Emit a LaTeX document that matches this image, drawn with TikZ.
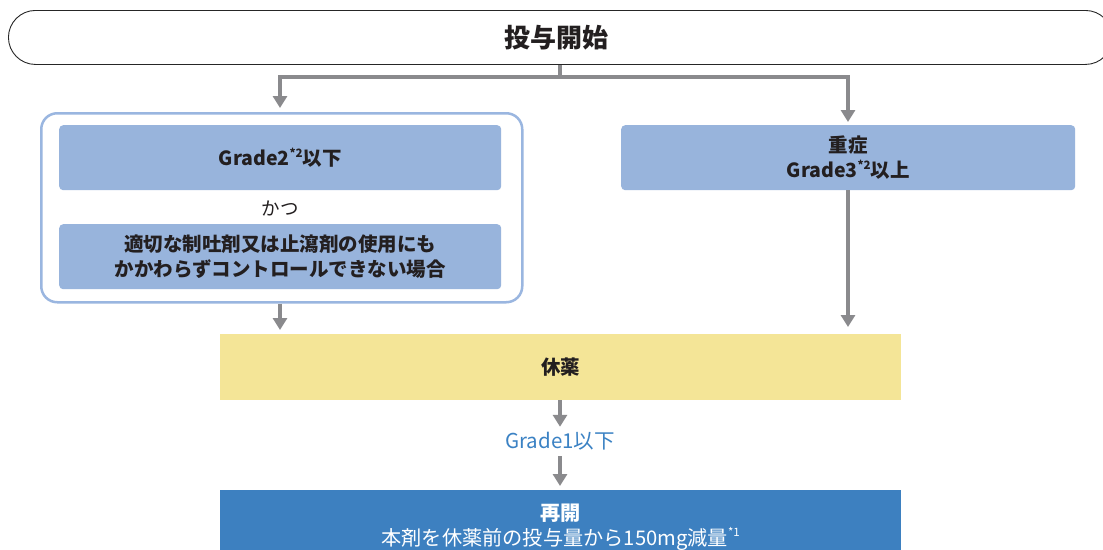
\documentclass[tikz,border=0pt]{standalone}
\usepackage{fontspec}
\setmainfont{Noto Sans CJK JP}
\usetikzlibrary{arrows.meta,positioning}
\definecolor{txt}{HTML}{231F20}
\definecolor{garrow}{HTML}{8A8A8D}
\definecolor{lblue}{HTML}{98B4DC}
\definecolor{oblue}{HTML}{9AB6E0}
\definecolor{yel}{HTML}{F4E597}
\definecolor{dblue}{HTML}{3D80C0}
\definecolor{tblue}{HTML}{3B82C4}
\newcommand{\sst}[1]{\raisebox{0.42em}{\fontsize{11.5pt}{11.5pt}\selectfont #1}}
\tikzset{
  conn/.style={draw=garrow,line width=4pt},
  arr/.style={conn,-{Triangle[width=14pt,length=12pt]}},
  inbox/.style={fill=lblue,rounded corners=4pt,inner sep=0pt,text=txt,align=center,font=\fontsize{19.5pt}{25pt}\selectfont\bfseries},
  wide/.style={inner sep=0pt,align=center,minimum width=681pt},
}
\begin{document}
\begin{tikzpicture}[x=1pt,y=-1pt]
\useasboundingbox (0,0) rectangle (1103,549);
\fill[white] (0,0) rectangle (1103,549);
% start
\node[draw=black!85,line width=0.9pt,rounded corners=27pt,minimum width=1104pt,minimum height=54pt,inner sep=0pt,anchor=north west,font=\fontsize{26pt}{30pt}\selectfont\bfseries,text=txt] (start) at (8,10) {\hspace*{-8pt}投与開始};
% left outer
\node[draw=oblue,line width=2.5pt,rounded corners=16pt,minimum width=481pt,minimum height=189pt,anchor=north west] (outer) at (40,112) {};
\node[inbox,minimum width=442pt,minimum height=65pt,anchor=north west] (g2) at (59,125) {Grade2\sst{*2}以下};
\node[text=txt,font=\fontsize{18.5pt}{22pt}\selectfont,inner sep=0pt] (katsu) at (280,208) {かつ};
\node[inbox,minimum width=442pt,minimum height=65pt,anchor=north west] (ctrl) at (59,224) {適切な制吐剤又は止瀉剤の使用にも\\かかわらずコントロールできない場合};
% right
\node[inbox,minimum width=454pt,minimum height=65pt,anchor=north west] (g3) at (621,125) {重症\\Grade3\sst{*2}以上};
% rest
\node[wide,fill=yel,minimum height=66pt,anchor=north west,text=txt,font=\fontsize{19.5pt}{24pt}\selectfont\bfseries] (rest) at (220,334) {休薬};
\node[text=tblue,inner sep=0pt,font=\fontsize{20.5pt}{24pt}\selectfont] (g1) at (560,441) {Grade1以下};
\node[wide,fill=dblue,minimum height=76pt,anchor=north west,text=white,font=\fontsize{20.2pt}{25pt}\selectfont] (resume) at (220,490) {\textbf{再開}\\本剤を休薬前の投与量から150mg減量\sst{*1}\strut};
% connectors
\coordinate (j) at (560,77);
\draw[conn] (start.south -| j) -- (j);
\draw[arr,shorten >=4pt] (j) -| (outer.north -| 280,0);
\draw[arr,shorten >=3pt] (j) -| (g3.north -| 848,0);
\draw[arr,shorten >=4pt] (outer.south -| 280,0) -- (rest.north -| 280,0);
\draw[arr,shorten >=7pt] (g3.south -| 848,0) -- (rest.north -| 848,0);
\draw[arr,shorten >=5pt] (rest.south -| 560,0) -- (g1.north);
\draw[arr,shorten >=4pt,shorten <=6pt] (g1.south) -- (resume.north -| 560,0);
\end{tikzpicture}
\end{document}
